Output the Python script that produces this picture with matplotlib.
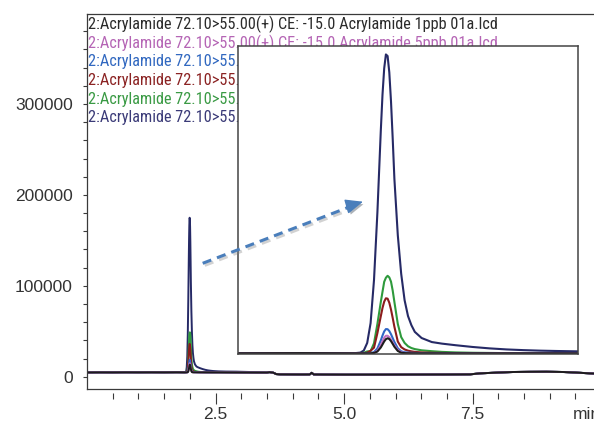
import numpy as np
import matplotlib
matplotlib.use("Agg")
import matplotlib.pyplot as plt
import matplotlib.patheffects as pe
from matplotlib import ticker, font_manager
from matplotlib.lines import Line2D
from matplotlib.patches import FancyArrowPatch

# ---- data (time in min, intensity in counts) ----
# baseline before the peak, shared by all traces
left_t = [0.0, 0.25, 0.5, 0.75, 1.0, 1.25, 1.5, 1.75, 1.90]
left_y = [4700, 4800, 4750, 4850, 4800, 4850, 4800, 4900, 4800]

# the acrylamide peak
peak_t = [1.92, 1.93, 1.94, 1.95, 1.96, 1.97, 1.98, 1.985, 1.99, 1.995, 2.00,
          2.005, 2.01, 2.015, 2.02, 2.03, 2.04, 2.05, 2.06, 2.07, 2.08, 2.10]
peak_1ppb = [4800, 4800, 4800, 4800, 4990, 5810, 8110, 9810, 11540, 12850, 13350,
             12920, 11740, 10150, 8520, 6120, 5110, 4900, 4850, 4800, 4800, 4800]
peak_5ppb = [4800, 4800, 4800, 4820, 5030, 6170, 9370, 11610, 13630, 14790, 14760,
             13950, 12580, 10930, 9270, 6680, 5390, 5000, 4900, 4850, 4800, 4800]
peak_10ppb = [4800, 4800, 4800, 4900, 5470, 7550, 12100, 14900, 17270, 18580, 18520,
              17460, 15660, 13460, 11220, 7640, 5900, 5400, 5200, 5100, 5000, 4950]
peak_50ppb = [4800, 4860, 5150, 6280, 8000, 16300, 25900, 30600, 34200, 36100, 35900,
              33600, 29700, 24900, 19900, 11500, 8300, 7000, 6300, 5900, 5600, 5300]
peak_100ppb = [4860, 5080, 5870, 6000, 10500, 21500, 34000, 39800, 45500, 47800, 48900,
               48000, 45600, 40500, 34000, 21500, 14000, 10700, 8800, 7800, 7200, 6500]
peak_500ppb = [5200, 6400, 10700, 22000, 46500, 85000, 131500, 152000, 167000, 174900, 174000,
               164700, 148200, 127000, 104000, 72000, 50000, 35000, 26000, 20800, 17000, 13500]

# peak tail
tail_t = [2.13, 2.16, 2.20, 2.25, 2.30, 2.35, 2.40, 2.45, 2.50, 2.56, 2.70, 2.90, 3.10, 3.30]
tail_1ppb = [4800, 4800, 4800, 4800, 4800, 4800, 4800, 4800, 4800, 4800, 4750, 4700, 4650, 4600]
tail_5ppb = [4800, 4800, 4800, 4800, 4800, 4800, 4800, 4800, 4800, 4800, 4750, 4700, 4650, 4600]
tail_10ppb = [4900, 4850, 4800, 4800, 4800, 4800, 4800, 4800, 4800, 4800, 4750, 4700, 4650, 4600]
tail_50ppb = [5100, 5000, 4900, 4850, 4800, 4800, 4800, 4800, 4800, 4800, 4750, 4700, 4650, 4600]
tail_100ppb = [6000, 5600, 5300, 5100, 5000, 4900, 4850, 4800, 4800, 4800, 4750, 4700, 4650, 4600]
tail_500ppb = [11200, 10300, 9400, 8400, 7600, 7000, 6600, 6300, 6100, 5900, 5700, 5600, 5300, 5000]

# baseline after the peak, shared by all traces
right_t = [3.50, 3.55, 3.62, 3.68, 3.75, 4.00, 4.20, 4.33, 4.37, 4.41, 4.60, 5.00,
           5.50, 6.00, 6.50, 7.00, 7.45, 7.64, 8.00, 8.29, 8.60, 8.94, 9.26, 9.50, 9.78, 9.86]
right_y = [4600, 5000, 4500, 2900, 2600, 2500, 2450, 2500, 4300, 2500, 2400, 2300,
           2300, 2350, 2400, 2450, 2600, 3700, 4600, 5200, 5400, 5500, 5200, 4600, 3700, 3500]

trace_labels = [
    "2:Acrylamide 72.10>55.00(+) CE: -15.0 Acrylamide 1ppb 01a.lcd",
    "2:Acrylamide 72.10>55.00(+) CE: -15.0 Acrylamide 5ppb 01a.lcd",
    "2:Acrylamide 72.10>55.00(+) CE: -15.0 Acrylamide 10ppb 01a.lcd",
    "2:Acrylamide 72.10>55.00(+) CE: -15.0 Acrylamide 50ppb 01a.lcd",
    "2:Acrylamide 72.10>55.00(+) CE: -15.0 Acrylamide 100ppb 01a.lcd",
    "2:Acrylamide 72.10>55.00(+) CE: -15.0 Acrylamide 500ppb 01a.lcd",
]
peaks = [peak_1ppb, peak_5ppb, peak_10ppb, peak_50ppb, peak_100ppb, peak_500ppb]
tails = [tail_1ppb, tail_5ppb, tail_10ppb, tail_50ppb, tail_100ppb, tail_500ppb]

line_colors = ["#1c1c1c", "#c070c0", "#2f66c6", "#8b1c1c", "#2e9a3c", "#262a66"]
text_colors = ["#2b2b2b", "#b565b5", "#3168c0", "#8b2323", "#3a9a44", "#3b3b78"]

y_major = [0, 100000, 200000, 300000]
x_major = [2.5, 5.0, 7.5]
x_minor = [0.5, 1.0, 1.5, 2.0, 3.0, 3.5, 4.0, 4.5, 5.5, 6.0, 6.5, 7.0, 8.0, 8.5, 9.0, 9.5]


def build_trace(peak_vals, tail_vals):
    t = np.concatenate([left_t, peak_t, tail_t, right_t])
    y = np.concatenate([left_y, peak_vals, tail_vals, right_y])
    return t, y


def pick_font(names):
    # first family that is really installed
    for n in names:
        try:
            font_manager.findfont(font_manager.FontProperties(family=n), fallback_to_default=False)
            return n
        except ValueError:
            pass
    return "DejaVu Sans"


tick_font = ["Liberation Sans", "DejaVu Sans"]
label_font = pick_font(["Liberation Sans Narrow", "Roboto Condensed", "Open Sans Condensed",
                        "Noto Sans CJK JP"])
spine_col = "#3a3a3a"

fig = plt.figure(figsize=(5.94, 4.22), dpi=100)
ax = fig.add_axes([87 / 594, 1 - 389 / 422, (594 - 87) / 594, (389 - 14) / 422])

# traces, biggest first so the black 1ppb ends up on top
for k in reversed(range(len(peaks))):
    t, y = build_trace(peaks[k], tails[k])
    ax.plot(t, y, color=line_colors[k], lw=1.4, solid_joinstyle="round")

ax.set_xlim(0, 9.86)
ax.set_ylim(-13500, 399000)

for side in ["left", "top", "bottom"]:
    ax.spines[side].set_color(spine_col)
    ax.spines[side].set_linewidth(0.9)
ax.spines["right"].set_visible(False)

# y axis
ax.set_yticks(y_major)
ax.yaxis.set_major_formatter(ticker.StrMethodFormatter("{x:.0f}"))
ax.yaxis.set_minor_locator(ticker.MultipleLocator(20000))
ax.tick_params(axis="y", which="both", direction="out", length=3.2, width=0.8,
               color=spine_col, pad=7)
for lab in ax.get_yticklabels():
    lab.set_fontfamily(tick_font)
    lab.set_fontsize(12.5)
    lab.set_color("#333333")

# x axis ticks sit a little below the spine
ax.tick_params(axis="x", which="both", bottom=False, labelbottom=False)
sec = ax.secondary_xaxis(-0.0099)
sec.spines["bottom"].set_visible(False)
sec.set_xticks(x_major)
sec.set_xticklabels(["2.5", "5.0", "7.5"])
sec.xaxis.set_minor_locator(ticker.FixedLocator(x_minor))
sec.tick_params(axis="x", which="major", length=8, width=0.8, color=spine_col, pad=2.5)
sec.tick_params(axis="x", which="minor", length=4, width=0.8, color=spine_col)
for lab in sec.get_xticklabels():
    lab.set_fontfamily(tick_font)
    lab.set_fontsize(12.5)
    lab.set_color("#333333")
ax.text(9.45, -0.048, "min", transform=ax.get_xaxis_transform(), ha="left", va="top",
        fontsize=12.5, family=tick_font, color="#333333", clip_on=False)

# trace names, stacked at the top left (partly hidden by the inset)
name_texts = []
for k, name in enumerate(trace_labels):
    txt = ax.text(88 / 594, 1 - (29.3 + 18.6 * k) / 422, name, transform=fig.transFigure,
                  ha="left", va="baseline", fontsize=12.5, family=label_font,
                  color=text_colors[k])
    name_texts.append(txt)

# shrink the names so the first one spans about 409 px like in the original
renderer = fig.canvas.get_renderer()
w = name_texts[0].get_window_extent(renderer).width
fs = min(12.5, 12.5 * 409 / w)
for txt in name_texts:
    txt.set_fontsize(fs)

# zoomed inset on the peak
ax_in = fig.add_axes([238 / 594, 1 - 354 / 422, (578 - 238) / 594, (354 - 46) / 422])
ax_in.set_facecolor("white")
for k in reversed(range(len(peaks))):
    t, y = build_trace(peaks[k], tails[k])
    ax_in.plot(t, y, color=line_colors[k], lw=1.5, solid_joinstyle="round")
ax_in.set_xlim(1.56, 2.56)
ax_in.set_ylim(4400, 179700)
ax_in.set_xticks([])
ax_in.set_yticks([])
for side in ax_in.spines:
    ax_in.spines[side].set_color("#444444")
    ax_in.spines[side].set_linewidth(1.1)

# dashed arrow pointing from the peak into the inset
arrow_col = "#4a7ebb"
shadow = [pe.SimpleLineShadow(offset=(1.5, -1.5), shadow_color="gray", alpha=0.35), pe.Normal()]
x0, y0 = 202.7 / 594, 1 - 263.3 / 422
xh, yh = 349.0 / 594, 1 - 207.1 / 422
x1, y1 = 363.0 / 594, 1 - 201.7 / 422
shaft = Line2D([x0, xh], [y0, yh], transform=fig.transFigure, color=arrow_col,
               lw=2.2, linestyle=(0, (3.0, 2.0)), solid_capstyle="butt",
               path_effects=shadow, zorder=5)
fig.add_artist(shaft)
head = FancyArrowPatch((xh - 0.004, yh + 0.0015), (x1, y1), transform=fig.transFigure,
                       arrowstyle="-|>,head_length=0.9,head_width=0.38", mutation_scale=12,
                       color=arrow_col, lw=1, shrinkA=0, shrinkB=0, zorder=5,
                       path_effects=[pe.SimplePatchShadow(offset=(1.5, -1.5), alpha=0.35), pe.Normal()])
fig.add_artist(head)

fig.savefig("out.png", dpi=100)
